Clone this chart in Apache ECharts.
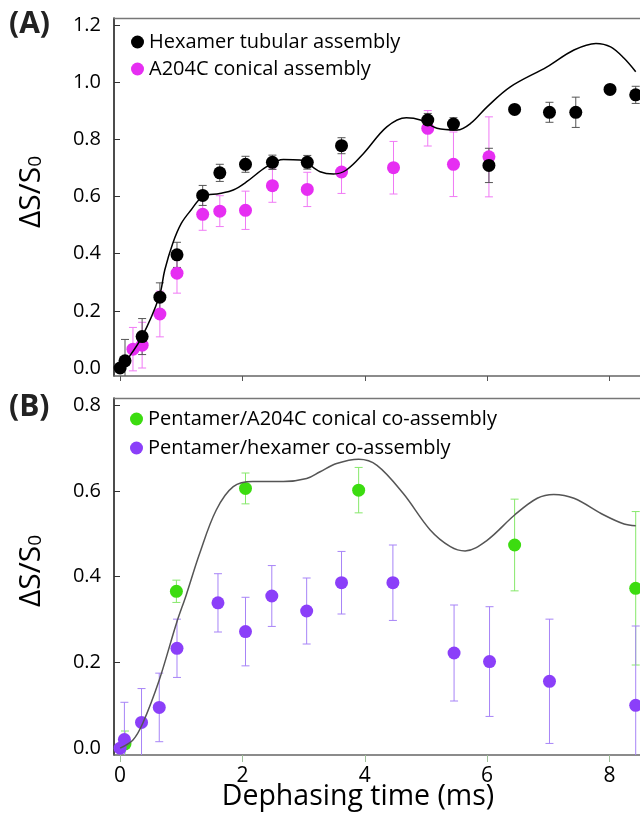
<!DOCTYPE html>
<html>
<head>
<meta charset="utf-8">
<script src="https://cdn.jsdelivr.net/npm/echarts@6/dist/echarts.min.js"></script>
<style>
html,body{margin:0;padding:0;background:#fff;}
#chart{width:640px;height:814px;}
</style>
</head>
<body>
<div id="chart"></div>
<script>
// ---------- Data ----------
// Panel A
const hexX   = [0, 0.08, 0.36, 0.65, 0.93, 1.35, 1.63, 2.05, 2.49, 3.06, 3.62, 5.03, 5.45, 6.03, 6.45, 7.02, 7.45, 8.01, 8.43];
const hexY   = [0, 0.025, 0.11, 0.248, 0.396, 0.604, 0.683, 0.713, 0.72, 0.72, 0.778, 0.868, 0.854, 0.709, 0.905, 0.895, 0.895, 0.975, 0.956];
const hexErr = [0, 0.075, 0.063, 0.05, 0.044, 0.035, 0.03, 0.028, 0.025, 0.024, 0.028, 0.023, 0.022, 0.06, 0.013, 0.035, 0.053, 0.01, 0.03];

const a204X   = [0.21, 0.36, 0.65, 0.93, 1.35, 1.63, 2.05, 2.49, 3.06, 3.62, 4.47, 5.03, 5.45, 6.03];
const a204Y   = [0.066, 0.08, 0.189, 0.332, 0.538, 0.549, 0.552, 0.638, 0.625, 0.686, 0.701, 0.839, 0.713, 0.739];
const a204Err = [0.076, 0.08, 0.08, 0.07, 0.056, 0.054, 0.067, 0.058, 0.06, 0.075, 0.092, 0.062, 0.113, 0.14];

const fitAX = [0, 0.1, 0.36, 0.64, 0.73, 0.86, 1.0, 1.16, 1.35, 1.63, 1.85, 2.07, 2.39, 2.67, 2.94, 3.27, 3.49, 3.70, 3.98, 4.36, 4.68, 4.91, 5.18, 5.51, 5.73, 6.0, 6.38, 6.98, 7.42, 7.78, 8.02, 8.24, 8.43];
const fitAY = [0, 0.025, 0.11, 0.25, 0.343, 0.436, 0.506, 0.553, 0.60, 0.611, 0.623, 0.652, 0.704, 0.73, 0.728, 0.687, 0.679, 0.693, 0.751, 0.844, 0.876, 0.868, 0.839, 0.833, 0.856, 0.914, 0.984, 1.054, 1.113, 1.136, 1.124, 1.084, 1.037];

// Panel B
const pentAX   = [0.08, 0.92, 2.05, 3.9, 6.45, 8.43];
const pentAY   = [0.01, 0.366, 0.606, 0.602, 0.474, 0.373];
const pentAErr = [0.03, 0.026, 0.036, 0.053, 0.107, 0.179];

const pentHX   = [0, 0.07, 0.35, 0.64, 0.93, 1.60, 2.05, 2.48, 3.05, 3.62, 4.46, 5.46, 6.04, 7.02, 8.43];
const pentHY   = [0, 0.02, 0.06, 0.095, 0.233, 0.339, 0.272, 0.355, 0.32, 0.386, 0.386, 0.222, 0.202, 0.156, 0.1];
const pentHErr = [0, 0.087, 0.079, 0.08, 0.068, 0.068, 0.08, 0.071, 0.077, 0.073, 0.088, 0.112, 0.128, 0.145, 0.185];

const fitBX = [0, 0.21, 0.37, 0.64, 0.92, 1.08, 1.30, 1.57, 1.85, 2.17, 2.67, 3.05, 3.27, 3.54, 3.90, 4.20, 4.63, 5.07, 5.40, 5.64, 6.0, 6.45, 6.82, 7.09, 7.42, 7.91, 8.24, 8.43];
const fitBY = [0, 0.019, 0.058, 0.159, 0.291, 0.357, 0.454, 0.555, 0.61, 0.622, 0.622, 0.629, 0.645, 0.664, 0.674, 0.66, 0.594, 0.509, 0.47, 0.46, 0.485, 0.544, 0.583, 0.592, 0.583, 0.544, 0.523, 0.519];

// Tick labels
const xTicks  = [0, 2, 4, 6, 8];
const yTicksA = [0, 0.2, 0.4, 0.6, 0.8, 1.0, 1.2];
const yTicksB = [0, 0.2, 0.4, 0.6, 0.8];

// ---------- Helpers ----------
const FONT = 'Open Sans';
const zip = (xs, ys) => xs.map((x, i) => [x, ys[i]]);
const zip3 = (xs, ys, es) => xs.map((x, i) => [x, ys[i], es[i]]);

function errRender(color, yMin) {
  return function (params, api) {
    const x = api.value(0), y = api.value(1), e = api.value(2);
    if (!e) return null;
    let lowV = y - e, clipped = false;
    if (lowV < yMin) { lowV = yMin; clipped = true; }
    const lo = api.coord([x, lowV]);
    const hi = api.coord([x, y + e]);
    const w = 4;
    const st = { stroke: color, lineWidth: 1 };
    const ch = [
      { type: 'line', shape: { x1: lo[0], y1: lo[1], x2: hi[0], y2: hi[1] }, style: st },
      { type: 'line', shape: { x1: hi[0] - w, y1: hi[1], x2: hi[0] + w, y2: hi[1] }, style: st }
    ];
    if (!clipped) ch.push({ type: 'line', shape: { x1: lo[0] - w, y1: lo[1], x2: lo[0] + w, y2: lo[1] }, style: st });
    return { type: 'group', children: ch };
  };
}

const X_MIN = -0.1, X_MAX = 8.5;
const YA_MIN = -0.028, YA_MAX = 1.225;
const YB_MIN = -0.016, YB_MAX = 0.817;

function frameAxis(gi) {
  return { gridIndex: gi, type: 'value', position: 'top', min: X_MIN, max: X_MAX,
    axisLine: { onZero: false, lineStyle: { color: '#777', width: 1.3 } },
    axisTick: { show: false }, axisLabel: { show: false }, splitLine: { show: false } };
}
function yAxisDef(gi, mn, mx, ticks) {
  return { gridIndex: gi, type: 'value', min: mn, max: mx,
    axisLine: { show: true, onZero: false, lineStyle: { color: '#111', width: 1.5 } },
    axisTick: { show: true, inside: true, length: 6, customValues: ticks, lineStyle: { color: '#333', width: 1 } },
    axisLabel: { show: true, customValues: ticks, margin: 13, fontSize: 20, color: '#000', fontFamily: FONT,
      formatter: v => Number(v).toFixed(1) },
    splitLine: { show: false } };
}

const yName = (y) => ({ type: 'text', x: 31, y: y, rotation: Math.PI / 2,
  style: { text: '{a|ΔS/S}{b|0}', align: 'center', verticalAlign: 'middle',
    rich: { a: { fontSize: 30, fontFamily: FONT, fill: '#000' },
            b: { fontSize: 19, fontFamily: FONT, fill: '#000', padding: [10, 0, 0, 0] } } } });

const option = {
  animation: false,
  backgroundColor: '#fff',
  grid: [
    { left: 114, top: 18, width: 526, height: 358 },
    { left: 114, top: 398, width: 526, height: 357 }
  ],
  xAxis: [
    { gridIndex: 0, type: 'value', min: X_MIN, max: X_MAX,
      axisLine: { onZero: false, lineStyle: { color: '#666', width: 1.5 } },
      axisTick: { show: true, length: 5, customValues: xTicks, lineStyle: { color: '#555' } },
      axisLabel: { show: false }, splitLine: { show: false } },
    frameAxis(0),
    { gridIndex: 1, type: 'value', min: X_MIN, max: X_MAX,
      axisLine: { onZero: false, lineStyle: { color: '#666', width: 1.5 } },
      axisTick: { show: true, length: 7, customValues: xTicks, lineStyle: { color: '#9dbd98' } },
      axisLabel: { show: true, customValues: xTicks, margin: 11, fontSize: 21, color: '#000', fontFamily: FONT },
      splitLine: { show: false } },
    frameAxis(1)
  ],
  yAxis: [
    yAxisDef(0, YA_MIN, YA_MAX, yTicksA),
    yAxisDef(1, YB_MIN, YB_MAX, yTicksB)
  ],
  legend: [
    { data: ['Hexamer tubular assembly', 'A204C conical assembly'], orient: 'vertical', left: 126, top: 27,
      itemWidth: 13, itemHeight: 13, itemGap: 7, icon: 'circle',
      textStyle: { fontSize: 20, color: '#000', fontFamily: FONT } },
    { data: ['Pentamer/A204C conical co-assembly', 'Pentamer/hexamer co-assembly'], orient: 'vertical', left: 125, top: 404,
      itemWidth: 13, itemHeight: 13, itemGap: 9, icon: 'circle',
      textStyle: { fontSize: 20, color: '#000', fontFamily: FONT } }
  ],
  graphic: [
    { type: 'text', left: 9, top: 9, style: { text: '(A)', font: 'bold 30px "Open Sans"', fill: '#222' } },
    { type: 'text', left: 9, top: 392, style: { text: '(B)', font: 'bold 30px "Open Sans"', fill: '#222' } },
    yName(192),
    yName(571),
    { type: 'text', x: 358, y: 797,
      style: { text: 'Dephasing time (ms)', align: 'center', verticalAlign: 'middle', fontSize: 28.5, fontFamily: FONT, fill: '#000' } }
  ],
  series: [
    // Panel A
    { type: 'line', xAxisIndex: 0, yAxisIndex: 0, data: zip(fitAX, fitAY), smooth: 0.35, symbol: 'none',
      lineStyle: { color: '#000', width: 1.5 }, silent: true },
    { type: 'custom', xAxisIndex: 0, yAxisIndex: 0, data: zip3(a204X, a204Y, a204Err), renderItem: errRender('#f07af5', YA_MIN), silent: true },
    { type: 'custom', xAxisIndex: 0, yAxisIndex: 0, data: zip3(hexX, hexY, hexErr), renderItem: errRender('#555', YA_MIN), silent: true },
    { name: 'A204C conical assembly', type: 'scatter', xAxisIndex: 0, yAxisIndex: 0, data: zip(a204X, a204Y),
      symbol: 'circle', symbolSize: 13, itemStyle: { color: '#e62ef2', opacity: 1 }, clip: false },
    { name: 'Hexamer tubular assembly', type: 'scatter', xAxisIndex: 0, yAxisIndex: 0, data: zip(hexX, hexY),
      symbol: 'circle', symbolSize: 13, itemStyle: { color: '#000', opacity: 1 }, clip: false },
    // Panel B
    { type: 'line', xAxisIndex: 2, yAxisIndex: 1, data: zip(fitBX, fitBY), smooth: 0.35, symbol: 'none',
      lineStyle: { color: '#555', width: 1.5 }, silent: true },
    { type: 'custom', xAxisIndex: 2, yAxisIndex: 1, data: zip3(pentAX, pentAY, pentAErr), renderItem: errRender('#86e86a', YB_MIN), silent: true },
    { type: 'custom', xAxisIndex: 2, yAxisIndex: 1, data: zip3(pentHX, pentHY, pentHErr), renderItem: errRender('#a784f7', YB_MIN), silent: true },
    { name: 'Pentamer/A204C conical co-assembly', type: 'scatter', xAxisIndex: 2, yAxisIndex: 1, data: zip(pentAX, pentAY),
      symbol: 'circle', symbolSize: 13, itemStyle: { color: '#3cdc10', opacity: 1 }, clip: false },
    { name: 'Pentamer/hexamer co-assembly', type: 'scatter', xAxisIndex: 2, yAxisIndex: 1, data: zip(pentHX, pentHY),
      symbol: 'circle', symbolSize: 13, itemStyle: { color: '#8b3ff9', opacity: 1 }, clip: false }
  ]
};

const chart = echarts.init(document.getElementById('chart'), null, { renderer: 'canvas' });
chart.setOption(option);
</script>
</body>
</html>
